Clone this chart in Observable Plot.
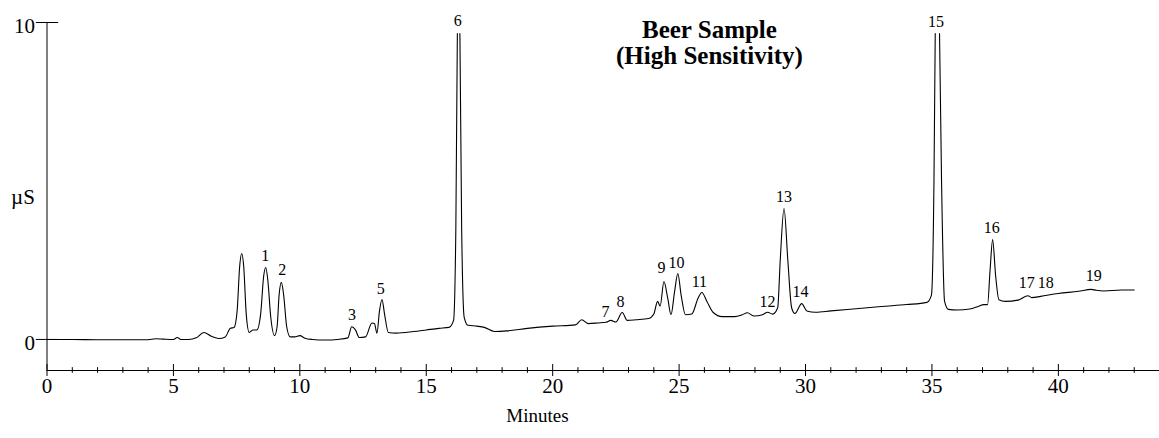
<!DOCTYPE html>
<html>
<head>
<meta charset="utf-8">
<script src="https://cdn.jsdelivr.net/npm/d3@7"></script>
<script src="https://cdn.jsdelivr.net/npm/@observablehq/plot@0.6"></script>
<style>
  html, body { margin: 0; padding: 0; background: #fff; }
  #chart svg { display: block; }
</style>
</head>
<body>
<div id="chart"></div>
<script>
// Chromatogram trace (minutes, µS); NaN = off-scale top (open peak)
const times = [
  0.0, 1.0, 2.0, 3.0, 4.0, 4.3, 4.6, 5.0, 5.15, 5.3, 5.6, 5.9, 6.2, 6.5, 6.8,
  7.05, 7.25, 7.4, 7.52, 7.62, 7.7, 7.78, 7.88, 8.0, 8.15, 8.3, 8.45, 8.57, 8.65, 8.73, 8.85,
  9.0, 9.1, 9.18, 9.27, 9.36, 9.48, 9.62, 9.8, 10.0, 10.2, 10.5, 11.0, 11.5, 11.9,
  12.05, 12.2, 12.35, 12.6, 12.85, 12.95, 13.05, 13.15, 13.25, 13.35, 13.5, 13.8,
  14.5, 15.0, 15.5, 15.9, 16.08, 16.17, 16.23, 16.28, 16.33, 16.4, 16.5, 16.65, 17.0, 17.3,
  17.7, 18.2, 19.0, 20.0, 20.9, 21.15, 21.4, 21.8, 22.1, 22.3, 22.5, 22.75, 22.95,
  23.3, 23.8, 24.0, 24.15, 24.25, 24.4, 24.55, 24.68, 24.82, 24.95, 25.08, 25.25,
  25.5, 25.75, 25.9, 26.1, 26.35, 26.7, 27.2, 27.5, 27.7, 27.95, 28.3, 28.5, 28.7,
  28.9, 29.0, 29.15, 29.3, 29.45, 29.58, 29.85, 30.05, 30.4, 31.0, 32.0, 33.0, 34.0,
  34.8, 34.98, 35.08, 35.13, 35.22, 35.3, 35.38, 35.5, 35.65, 36.0, 36.5, 36.85, 37.05, 37.2,
  37.3, 37.4, 37.52, 37.65, 37.9, 38.4, 38.8, 38.95, 39.3, 40.0, 40.8, 41.3, 41.5,
  41.8, 42.5, 43.0
];
const signal = [
  0.0, 0.0, -0.01, -0.01, -0.01, 0.02, 0.01, 0.0, 0.06, 0.0, 0.0, 0.05, 0.22, 0.1, 0.03,
  0.08, 0.35, 0.38, 0.9, 2.3, 2.71, 2.3, 0.8, 0.22, 0.3, 0.3, 0.8, 2.0, 2.27, 1.9, 0.7,
  0.12, 0.4, 1.4, 1.8, 1.4, 0.4, 0.08, 0.08, 0.12, 0.04, 0.0, -0.02, 0.0, 0.05,
  0.4, 0.3, 0.06, 0.08, 0.52, 0.5, 0.2, 0.9, 1.26, 0.8, 0.22, 0.2,
  0.25, 0.3, 0.35, 0.38, 0.6, 3.5, 9.65, NaN, 9.65, 3.5, 0.7, 0.45, 0.42, 0.38,
  0.25, 0.27, 0.35, 0.42, 0.46, 0.62, 0.5, 0.52, 0.54, 0.6, 0.55, 0.85, 0.6,
  0.62, 0.66, 0.8, 1.2, 1.05, 1.83, 1.3, 0.78, 1.5, 2.08, 1.4, 0.78,
  0.8, 1.3, 1.48, 1.2, 0.85, 0.72, 0.72, 0.78, 0.84, 0.74, 0.78, 0.86, 0.8,
  1.0, 2.5, 4.13, 2.5, 1.0, 0.82, 1.13, 0.9, 0.86, 0.9, 0.97, 1.04, 1.1,
  1.17, 1.4, 5.0, 9.65, NaN, 9.65, 5.0, 1.2, 0.95, 0.93, 0.96, 1.05, 1.1, 1.1,
  2.2, 3.15, 2.0, 1.25, 1.2, 1.24, 1.38, 1.32, 1.36, 1.45, 1.52, 1.58, 1.55,
  1.53, 1.56, 1.56
];

// Peak labels
const peakNames = ["1","2","3","5","6","7","8","9","10","11","12","13","14","15","16","17","18","19"];
const peakLabelX = [8.63, 9.3, 12.06, 13.2, 16.25, 22.09, 22.68, 24.3, 24.9, 25.8, 28.5, 29.15, 29.8, 35.16, 37.37, 38.75, 39.5, 41.4];
const peakLabelY = [2.65, 2.18, 0.76, 1.58, 10.06, 0.88, 1.2, 2.27, 2.4, 1.83, 1.17, 4.5, 1.51, 10.03, 3.53, 1.8, 1.8, 1.99];

// Axis ticks
const xMajorTicks = [0, 5, 10, 15, 20, 25, 30, 35, 40];
const xMinorTicks = [1,2,3,4,6,7,8,9,11,12,13,14,16,17,18,19,21,22,23,24,26,27,28,29,31,32,33,34,36,37,38,39,41,42,43];
const yTicks = [0, 10];
const yTickLabels = ["0", "10"];

const titleLines = ["Beer Sample", "(High Sensitivity)"];
const xLabel = "Minutes";
const yLabel = "µS";

const trace = times.map((t, i) => ({t, v: signal[i]}));
const peaks = peakNames.map((n, i) => ({n, x: peakLabelX[i], y: peakLabelY[i]}));

const yMin = -0.98, yMax = 10;
const font = "'Liberation Serif', 'Times New Roman', serif";

const chart = Plot.plot({
  width: 1159,
  height: 438,
  marginLeft: 46.5,
  marginRight: 0,
  marginTop: 22,
  marginBottom: 68,
  x: {domain: [0, 44], axis: null},
  y: {domain: [yMin, yMax], axis: null},
  style: {fontFamily: font, background: "#fff", color: "#000"},
  marks: [
    // axis lines
    Plot.ruleY([yMin], {stroke: "#000", strokeWidth: 1}),
    Plot.ruleX([0], {y1: yMin, y2: yMax, stroke: "#000", strokeWidth: 1}),
    // x ticks
    Plot.ruleX(xMinorTicks, {x: d => d, y1: yMin - 0.09, y2: yMin + 0.09, stroke: "#000"}),
    Plot.ruleX(xMajorTicks, {x: d => d, y1: yMin - 0.19, y2: yMin + 0.19, stroke: "#000"}),
    Plot.text(xMajorTicks, {x: d => d, frameAnchor: "bottom", dy: 22, text: d => String(d), fontSize: 21, fill: "#000"}),
    // y ticks
    Plot.ruleY(yTicks, {y: d => d, x1: -0.42, x2: 0.46, stroke: "#000"}),
    Plot.text(yTicks, {y: d => d, frameAnchor: "left", dx: -12, dy: 4, textAnchor: "end", text: (d, i) => yTickLabels[i], fontSize: 21, fill: "#000"}),
    // axis titles
    Plot.text([yLabel], {y: 4.5, frameAnchor: "left", dx: -24, textAnchor: "middle", text: d => d, fontSize: 21, fill: "#000"}),
    Plot.text([xLabel], {x: 19.4, frameAnchor: "bottom", dy: 51, text: d => d, fontSize: 19, fill: "#000"}),
    // trace
    Plot.line(trace, {x: "t", y: "v", stroke: "#000", strokeWidth: 1.1, curve: "monotone-x"}),
    // peak labels
    Plot.text(peaks, {x: "x", y: "y", text: "n", fontSize: 16, fill: "#000"}),
    // title
    Plot.text([titleLines[0]], {x: 26.2, frameAnchor: "top", dy: -2, text: d => d, fontSize: 25, fontWeight: "bold", fill: "#000"}),
    Plot.text([titleLines[1]], {x: 26.2, frameAnchor: "top", dy: 24, text: d => d, fontSize: 25, fontWeight: "bold", fill: "#000"})
  ]
});
document.getElementById("chart").appendChild(chart);
</script>
</body>
</html>
